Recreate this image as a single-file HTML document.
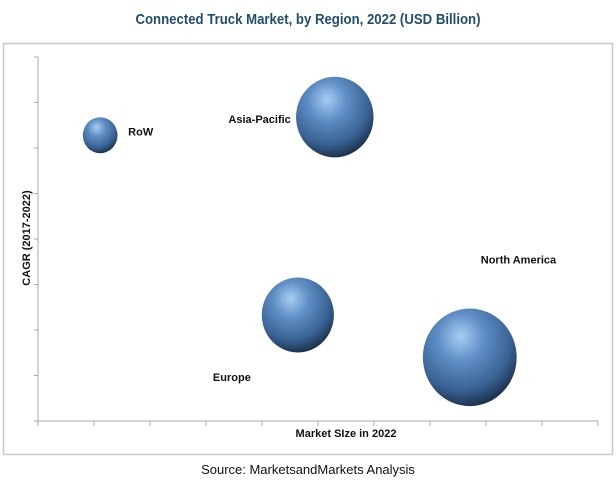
<!DOCTYPE html>
<html><head><meta charset="utf-8"><style>
html,body{margin:0;padding:0;background:#fff;}
svg{display:block;font-family:"Liberation Sans",sans-serif;}
</style></head><body>
<svg id="chart" width="616" height="491" viewBox="0 0 616 491">
<defs>
<radialGradient id="ball" cx="0.42" cy="0.32" r="0.7" fx="0.4" fy="0.28">
<stop offset="0" stop-color="#a9cdf2"/>
<stop offset="0.35" stop-color="#5f8fc6"/>
<stop offset="0.75" stop-color="#3a6294"/>
<stop offset="1" stop-color="#1a2f48"/>
</radialGradient>
</defs>
<text x="308" y="24" text-anchor="middle" font-size="15" font-weight="bold" fill="#1f4e6e" transform="translate(308,0) scale(0.88,1) translate(-308,0)">Connected Truck Market, by Region, 2022 (USD Billion)</text>
<rect x="3.5" y="43.5" width="609" height="411" fill="#fff" stroke="#c8c8c8" stroke-width="1.5"/>
<g id="axes"></g>
<g id="marks"></g>
<text x="346" y="437" text-anchor="middle" font-size="11" font-weight="bold" fill="#111">Market SIze in 2022</text>
<text transform="translate(30,238) rotate(-90)" text-anchor="middle" font-size="11" font-weight="bold" fill="#111">CAGR (2017-2022)</text>
<text x="308" y="474" text-anchor="middle" font-size="13" fill="#111">Source: MarketsandMarkets Analysis</text>
</svg>
<script>
const regions = ["RoW", "Asia-Pacific", "Europe", "North America"];
const marketSize = [1.11, 5.3, 4.64, 7.71];
const cagr = [6.28, 6.68, 2.33, 1.4];
const bubbleValue = [3, 15, 13, 22];
const xTickCount = 10;
const yTickCount = 8;

const X0 = 38, X1 = 598, Y0 = 421, Y1 = 57;
function xs(v){ return X0 + v / xTickCount * (X1 - X0); }
function ys(v){ return Y0 - v / yTickCount * (Y0 - Y1); }
function rs(v){ return 10 * Math.sqrt(v); }
const NS = "http://www.w3.org/2000/svg";
const axes = document.getElementById("axes");
const marks = document.getElementById("marks");
function mk(tag, attrs, parent){ const e = document.createElementNS(NS, tag); for (const k in attrs) e.setAttribute(k, attrs[k]); parent.appendChild(e); return e; }

const ya = mk("line", {x1:X0, y1:Y1, x2:X0, y2:Y0, stroke:"#aaa", "stroke-width":1}, axes);


const xa = mk("line", {x1:X0, y1:Y0, x2:X1, y2:Y0, stroke:"#aaa", "stroke-width":1}, axes);


for (let i = 0; i <= xTickCount; i++) {
  const t = mk("line", {x1:xs(i), y1:Y0, x2:xs(i), y2:Y0+5, stroke:"#aaa"}, axes);
  
  
}
for (let i = 0; i <= yTickCount; i++) {
  const t = mk("line", {x1:X0-4, y1:ys(i), x2:X0, y2:ys(i), stroke:"#aaa"}, axes);
  
  
}
const labelOffsets = [[28,-4,"start"],[-44,2,"end"],[-47,62,"end"],[11,-98,"start"]];
regions.forEach((name, i) => {
  const cx = xs(marketSize[i]), cy = ys(cagr[i]), r = rs(bubbleValue[i]);
  const c = mk("ellipse", {cx:cx, cy:cy, rx:r, ry:r*1.04, fill:"url(#ball)"}, marks);
  
  
  const o = labelOffsets[i];
  const tx = mk("text", {x:cx+o[0], y:cy+o[1]+4, "text-anchor":o[2], "font-size":11, "font-weight":"bold", fill:"#111"}, marks);
  tx.textContent = name;
  
  
});
</script>
</body></html>
